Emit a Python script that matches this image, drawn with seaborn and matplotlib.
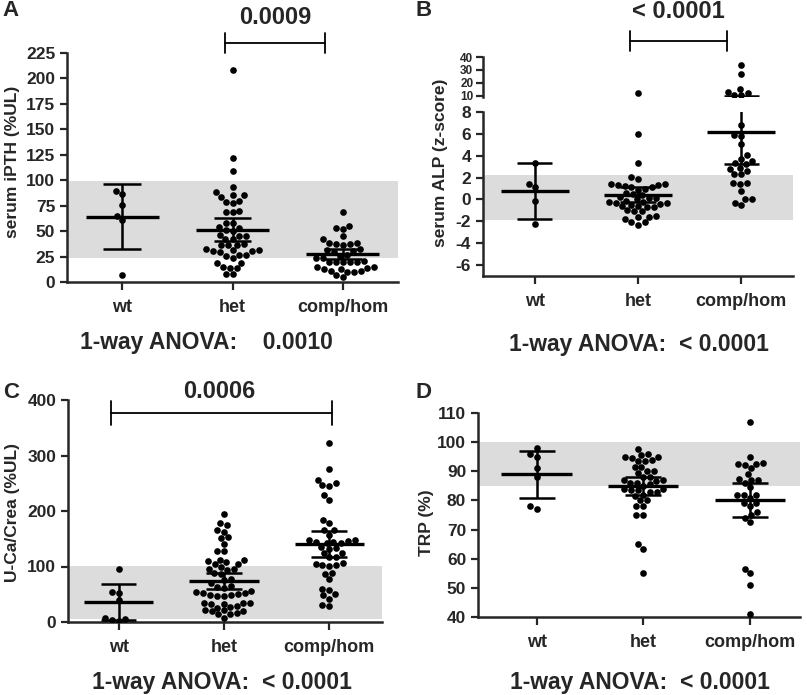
"""Dot plots of four lab parameters by genotype (A-D)."""

import matplotlib

matplotlib.use("Agg")
import matplotlib.pyplot as plt
import matplotlib.transforms as mtransforms
import pandas as pd
import seaborn as sns

GROUPS = ["wt", "het", "comp/hom"]

# A: serum iPTH (%UL)
ipth_wt = [89, 86, 76, 65, 61, 7]
ipth_het = [208, 122, 109, 93, 88, 85, 85, 84, 80, 79, 78, 70, 69, 69, 58, 58,
            54, 53, 51, 50, 46, 45, 45, 42, 42, 37, 36, 36, 36, 32, 31, 31, 30,
            30, 29, 27, 27, 26, 24, 19, 19, 15, 14, 14, 8, 8]
ipth_comp = [69, 55, 53, 52, 45, 42, 38, 38, 37, 37, 36, 32, 31, 30, 29, 27, 26,
             24, 24, 21, 20, 20, 20, 20, 20, 15, 15, 14, 13, 13, 11, 11, 10, 10,
             7, 5]
ipth_mean = [64, 51, 27.5]
ipth_lo = [32, 40.5, 23]
ipth_hi = [96, 62.5, 32.5]
ipth_band = (24, 99)

# B: serum ALP (z-score), broken axis
alp_wt = [3.3, 1.4, 1.1, -0.1, -2.2]
alp_het = [12, 6.0, 3.3, 2.1, 1.9, 1.4, 1.4, 1.3, 1.3, 1.2, 1.1, 1.1, 1.0, 0.9,
           0.6, 0.5, 0.4, 0.2, 0.1, 0.1, 0.0, -0.1, -0.2, -0.2, -0.3, -0.3, -0.4,
           -0.5, -0.6, -0.6, -0.7, -0.7, -1.0, -1.1, -1.1, -1.5, -1.6, -1.6,
           -1.8, -2.1, -2.1, -2.3]
alp_comp = [34, 27, 15.5, 13, 12.5, 11, 10.5, 6.8, 5.9, 5.8, 5.1, 4.1, 3.7, 3.5,
            3.3, 3.2, 2.9, 2.8, 2.6, 2.3, 2.3, 1.5, 1.5, 1.4, 0.8, 0.0, 0.0,
            -0.3, -0.5]
alp_mean = [0.75, 0.45, 6.2]
alp_lo = [-1.8, -0.2, 3.2]
alp_hi = [3.3, 1.1, 10.0]
alp_band = (-1.9, 2.2)

# C: U-Ca/Crea (%UL)
uca_wt = [96, 54, 52, 39, 8, 6, 3, 2]
uca_het = [194, 179, 174, 166, 163, 153, 152, 141, 128, 128, 112, 111, 110, 108,
           104, 104, 100, 95, 95, 93, 88, 86, 78, 75, 70, 64, 63, 62, 55, 54,
           53, 52, 50, 49, 48, 47, 46, 35, 35, 34, 33, 32, 28, 27, 26, 22, 21,
           20, 19, 16, 15, 14, 8]
uca_comp = [323, 275, 255, 250, 246, 245, 228, 220, 184, 178, 166, 165, 157, 148,
            147, 146, 145, 144, 143, 142, 135, 134, 132, 125, 124, 118, 117, 107,
            105, 103, 102, 101, 89, 87, 77, 60, 57, 50, 48, 42, 30, 28]
uca_mean = [36, 74, 140]
uca_lo = [4, 59, 117]
uca_hi = [68, 89, 164]
uca_band = (5, 101)

# D: TRP (%)
trp_wt = [98, 96, 95, 91, 88, 78, 77]
trp_het = [97.5, 96, 95.5, 95, 95, 94.5, 94, 93.5, 93.5, 91.5, 91.5, 90, 90, 89.5,
           88, 88, 87, 87, 86.5, 86, 86, 85.5, 85, 84, 84, 83.5, 83.5, 83, 83,
           82, 81.5, 80, 80, 78, 78, 75, 75, 65, 63.5, 55]
trp_comp = [107, 95, 93, 92.5, 92.5, 92, 91, 89, 87.5, 87, 87, 86, 84.5, 82, 82,
            82, 81, 79, 79, 78, 76, 75, 74, 72.5, 56.5, 55, 51, 41]
trp_mean = [89, 84.8, 80.1]
trp_lo = [81, 81.7, 74.2]
trp_hi = [96.8, 87.9, 86.1]
trp_band = (85, 100)

W, H = 807, 695
BAND = "#dcdcdc"


def _frame(wt, het, comp):
    return pd.DataFrame({
        "group": ["wt"] * len(wt) + ["het"] * len(het) + ["comp/hom"] * len(comp),
        "value": list(wt) + list(het) + list(comp),
    })


def _rect(left, top, right, bottom):
    return [left / W, 1 - bottom / H, (right - left) / W, (bottom - top) / H]


def _swarm(ax, df):
    sns.swarmplot(data=df, x="group", y="value", order=GROUPS, color="black",
                  size=4.8, linewidth=0, ax=ax, zorder=3, warn_thresh=1)


def _summary(ax, mean, lo, hi):
    xs = list(range(len(GROUPS)))
    ax.hlines(mean, [x - 0.33 for x in xs], [x + 0.33 for x in xs],
              color="black", lw=2.4, zorder=4)
    ax.vlines(xs, lo, hi, color="black", lw=1.8, zorder=4)
    ax.hlines(lo, [x - 0.17 for x in xs], [x + 0.17 for x in xs],
              color="black", lw=1.8, zorder=4)
    ax.hlines(hi, [x - 0.17 for x in xs], [x + 0.17 for x in xs],
              color="black", lw=1.8, zorder=4)


def _style(ax, ylim, yticks, xlim=(-0.5, 2.5), ysize=12.5):
    yticks = list(yticks)
    ax.set_xlim(*xlim)
    ax.set_ylim(*ylim)
    ax.set_xticks(range(len(GROUPS)), labels=GROUPS, fontsize=13,
                  fontweight="bold")
    ax.set_yticks(yticks, labels=[str(t) for t in yticks], fontsize=ysize,
                  fontweight="bold")
    ax.set_xlabel("")
    ax.set_ylabel("")
    sns.despine(ax=ax)
    for side in ("left", "bottom"):
        ax.spines[side].set_linewidth(1.8)
    ax.tick_params(axis="both", width=1.6, length=5)
    ax.tick_params(axis="x", length=6, pad=6)
    ax.patch.set_alpha(0)


def _bracket(fig, ax, x0, x1, y, half, label, label_y, label_x=None):
    trans = mtransforms.blended_transform_factory(ax.transData, fig.transFigure)
    kw = dict(color="black", lw=1.3, transform=trans, clip_on=False)
    ax.plot([x0, x1], [1 - y / H, 1 - y / H], **kw)
    ax.plot([x0, x0], [1 - (y - half) / H, 1 - (y + half) / H], **kw)
    ax.plot([x1, x1], [1 - (y - half) / H, 1 - (y + half) / H], **kw)
    if label_x is None:
        label_x = (x0 + x1) / 2
    ax.text(label_x, 1 - label_y / H, label, transform=trans, ha="center",
            va="center", fontsize=17, fontweight="bold")


sns.set_style("ticks")
plt.rcParams["font.family"] = ["Liberation Sans", "DejaVu Sans"]
plt.rcParams["font.weight"] = "bold"

fig = plt.figure(figsize=(W / 100, H / 100), dpi=100)

# ---- A ----
axA = fig.add_axes(_rect(67, 53, 398, 282))
axA.axhspan(*ipth_band, color=BAND, lw=0, zorder=0)
_swarm(axA, _frame(ipth_wt, ipth_het, ipth_comp))
_summary(axA, ipth_mean, ipth_lo, ipth_hi)
_style(axA, (0, 225), range(0, 226, 25))
_bracket(fig, axA, 0.93, 1.84, 43, 10, "0.0009", 17)

# ---- B (broken y axis) ----
alp = _frame(alp_wt, alp_het, alp_comp)
axB = fig.add_axes(_rect(483, 112, 793, 276))
axB.axhspan(*alp_band, color=BAND, lw=0, zorder=0)
_swarm(axB, alp[alp["value"] <= 8])
_summary(axB, alp_mean, alp_lo, alp_hi)
_style(axB, (-7, 8), range(-6, 9, 2))

axB2 = fig.add_axes(_rect(483, 57, 793, 97.3))
_swarm(axB2, alp[alp["value"] > 8])
_summary(axB2, alp_mean, alp_lo, alp_hi)
_style(axB2, (9, 40), [10, 20, 30, 40], ysize=8.5)
axB2.spines["bottom"].set_visible(False)
axB2.tick_params(axis="x", bottom=False, labelbottom=False)
axB2.tick_params(axis="y", pad=2)
_bracket(fig, axB, 0.92, 1.86, 41, 10, "< 0.0001", 12)

# ---- C ----
axC = fig.add_axes(_rect(68, 400, 382, 622))
axC.axhspan(*uca_band, color=BAND, lw=0, zorder=0)
_swarm(axC, _frame(uca_wt, uca_het, uca_comp))
_summary(axC, uca_mean, uca_lo, uca_hi)
_style(axC, (0, 400), range(0, 401, 100), xlim=(-0.48, 2.5))
_bracket(fig, axC, -0.07, 2.03, 413, 12, "0.0006", 391, label_x=0.96)

# ---- D ----
axD = fig.add_axes(_rect(478, 413, 800, 617))
axD.axhspan(*trp_band, color=BAND, lw=0, zorder=0)
_swarm(axD, _frame(trp_wt, trp_het, trp_comp))
_summary(axD, trp_mean, trp_lo, trp_hi)
_style(axD, (40, 110), range(40, 111, 10), xlim=(-0.55, 2.47))

# y labels
ylab = dict(rotation=90, ha="center", va="center", fontsize=12.5, fontweight="bold")
fig.text(13 / W, 1 - 162 / H, "serum iPTH (%UL)", **ylab)
fig.text(441 / W, 1 - 163 / H, "serum ALP (z-score)", **ylab)
fig.text(13 / W, 1 - 512 / H, "U-Ca/Crea (%UL)", **ylab)
fig.text(427 / W, 1 - 523 / H, "TRP (%)", **ylab)

# panel letters
letter = dict(ha="left", va="center", fontsize=16, fontweight="bold")
fig.text(2 / W, 1 - 11 / H, "A", **letter)
fig.text(416 / W, 1 - 11 / H, "B", **letter)
fig.text(3 / W, 1 - 392 / H, "C", **letter)
fig.text(416 / W, 1 - 392 / H, "D", **letter)

# ANOVA results
anova = dict(ha="center", va="center", fontsize=16.5, fontweight="bold")
fig.text(206 / W, 1 - 343 / H, "1-way ANOVA:    0.0010", **anova)
fig.text(639 / W, 1 - 345 / H, "1-way ANOVA:  < 0.0001", **anova)
fig.text(222 / W, 1 - 683 / H, "1-way ANOVA:  < 0.0001", **anova)
fig.text(640 / W, 1 - 683 / H, "1-way ANOVA:  < 0.0001", **anova)

fig.savefig("out.png", dpi=100)
